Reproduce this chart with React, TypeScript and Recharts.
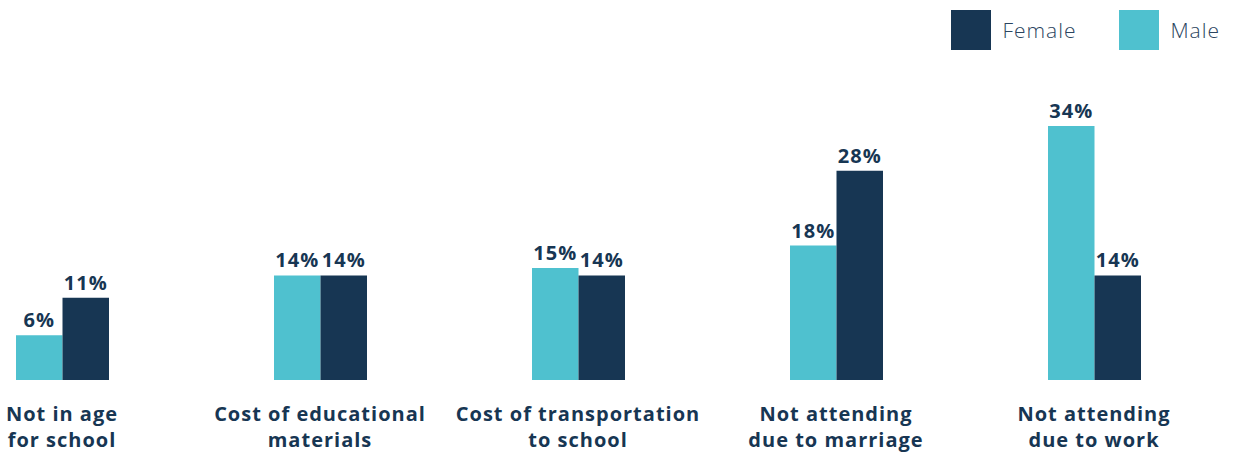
import React from 'react'
import { BarChart, Bar, XAxis, YAxis, Legend, LabelList } from 'recharts'

const categories = [
  'Not in age\nfor school',
  'Cost of educational\nmaterials',
  'Cost of transportation\nto school',
  'Not attending\ndue to marriage',
  'Not attending\ndue to work',
]
const maleValues = [6, 14, 15, 18, 34]
const femaleValues = [11, 14, 14, 28, 14]

const MALE = '#4fc1cf'
const FEMALE = '#173653'
const TEXT = '#173653'
const FONT = '"Open Sans", Arial, sans-serif'

const data = categories.map((name, i) => ({
  name,
  Male: maleValues[i],
  Female: femaleValues[i],
}))

function CategoryTick(props: any) {
  const { x, y, payload } = props
  const lines = String(payload.value).split('\n')
  return (
    <text
      x={x}
      y={y}
      textAnchor="middle"
      fill={TEXT}
      fontFamily={FONT}
      fontWeight={700}
      fontSize={20}
      style={{ letterSpacing: 1 }}
    >
      {lines.map((line, i) => (
        <tspan key={i} x={x} dy={i === 0 ? 41 : 26}>
          {line}
        </tspan>
      ))}
    </text>
  )
}

function LegendContent() {
  // Female listed first in the legend, Male second
  const items = [
    { label: 'Female', color: FEMALE },
    { label: 'Male', color: MALE },
  ]
  return (
    <div style={{ display: 'flex', justifyContent: 'flex-end', paddingRight: 15, paddingTop: 10 }}>
      {items.map((it, i) => (
        <div key={it.label} style={{ display: 'flex', alignItems: 'center', marginLeft: i === 0 ? 0 : 43 }}>
          <div style={{ width: 40, height: 40, background: it.color }} />
          <span
            style={{
              marginLeft: 11,
              fontFamily: FONT,
              fontSize: 21,
              letterSpacing: 1,
              color: '#2b4560',
              fontWeight: 300,
            }}
          >
            {it.label}
          </span>
        </div>
      ))}
    </div>
  )
}

const valueLabel = (v: any) => `${v}%`

export default function App() {
  return (
    <div style={{ position: 'absolute', left: 0, top: 0, width: 1235, height: 455, background: '#fff' }}>
      <BarChart
        width={1235}
        height={455}
        data={data}
        margin={{ top: 126, right: 12, bottom: 15, left: -67 }}
        barGap={0}
        barSize={46.5}
      >
        <XAxis
          dataKey="name"
          axisLine={false}
          tickLine={false}
          tickSize={0}
          tickMargin={0}
          height={60}
          interval={0}
          tick={<CategoryTick />}
        />
        <YAxis hide domain={[0, 34]} />
        <Legend
          verticalAlign="middle"
          layout="horizontal"
          wrapperStyle={{ top: 0, left: 0, width: 1235 }}
          content={<LegendContent />}
        />
        <Bar dataKey="Male" fill={MALE} isAnimationActive={false}>
          <LabelList
            dataKey="Male"
            position="top"
            offset={8}
            formatter={valueLabel}
            fill={TEXT}
            fontFamily={FONT}
            fontWeight={700}
            fontSize={20}
            style={{ letterSpacing: 1 }}
          />
        </Bar>
        <Bar dataKey="Female" fill={FEMALE} isAnimationActive={false}>
          <LabelList
            dataKey="Female"
            position="top"
            offset={8}
            formatter={valueLabel}
            fill={TEXT}
            fontFamily={FONT}
            fontWeight={700}
            fontSize={20}
            style={{ letterSpacing: 1 }}
          />
        </Bar>
      </BarChart>
    </div>
  )
}
